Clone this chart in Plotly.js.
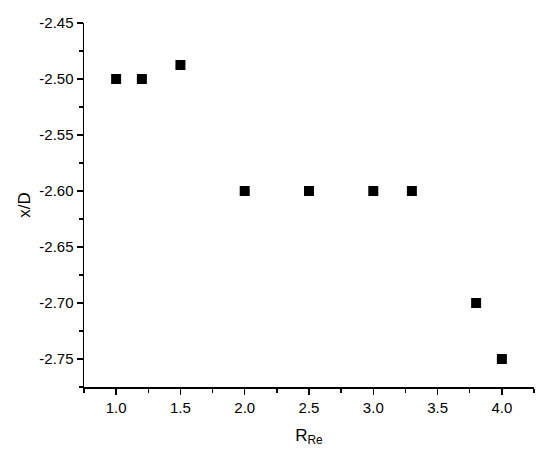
<!DOCTYPE html>
<html><head><meta charset="utf-8">
<script src="https://cdn.plot.ly/plotly-3.0.1.min.js"></script>
<style>html,body{margin:0;padding:0;background:#fff}#c{width:550px;height:461px}</style>
</head><body><div id="c"></div>
<script>
const rRe = [1.0, 1.2, 1.5, 2.0, 2.5, 3.0, 3.3, 3.8, 4.0];
const xD = [-2.50, -2.50, -2.4875, -2.60, -2.60, -2.60, -2.60, -2.70, -2.75];
const xTicks = [1.0, 1.5, 2.0, 2.5, 3.0, 3.5, 4.0];
const yTicks = [-2.45, -2.50, -2.55, -2.60, -2.65, -2.70, -2.75];

const font = {family: 'Liberation Sans, Arial, sans-serif', size: 15, color: '#000'};
Plotly.newPlot('c', [{
  x: rRe, y: xD, type: 'scatter', mode: 'markers',
  marker: {symbol: 'square', size: 10, color: '#000'}
}], {
  width: 550, height: 461,
  margin: {l: 84, r: 16, t: 23, b: 74},
  paper_bgcolor: '#fff', plot_bgcolor: '#fff',
  font: font,
  showlegend: false,
  xaxis: {
    range: [0.75, 4.25], tickvals: xTicks, ticktext: xTicks.map(v => v.toFixed(1)),
    showgrid: false, zeroline: false, showline: true, linecolor: '#000', linewidth: 1.5,
    ticks: 'outside', ticklen: 6, tickwidth: 1.5, tickcolor: '#000',
    minor: {ticks: 'outside', ticklen: 4, tickwidth: 1.5, tickcolor: '#000', dtick: 0.25, tick0: 0.75, showgrid: false},
    title: {text: 'R<sub>Re</sub>', font: {size: 17}, standoff: 14}
  },
  yaxis: {
    range: [-2.775, -2.45], tickvals: yTicks, ticktext: yTicks.map(v => v.toFixed(2)),
    showgrid: false, zeroline: false, showline: true, linecolor: '#000', linewidth: 1.5,
    ticks: 'outside', ticklen: 6, tickwidth: 1.5, tickcolor: '#000',
    minor: {ticks: 'outside', ticklen: 4, tickwidth: 1.5, tickcolor: '#000', dtick: 0.025, tick0: -2.45, showgrid: false},
    title: {text: 'x/D', font: {size: 17}, standoff: 4}
  }
}, {staticPlot: true, displayModeBar: false});
</script></body></html>
